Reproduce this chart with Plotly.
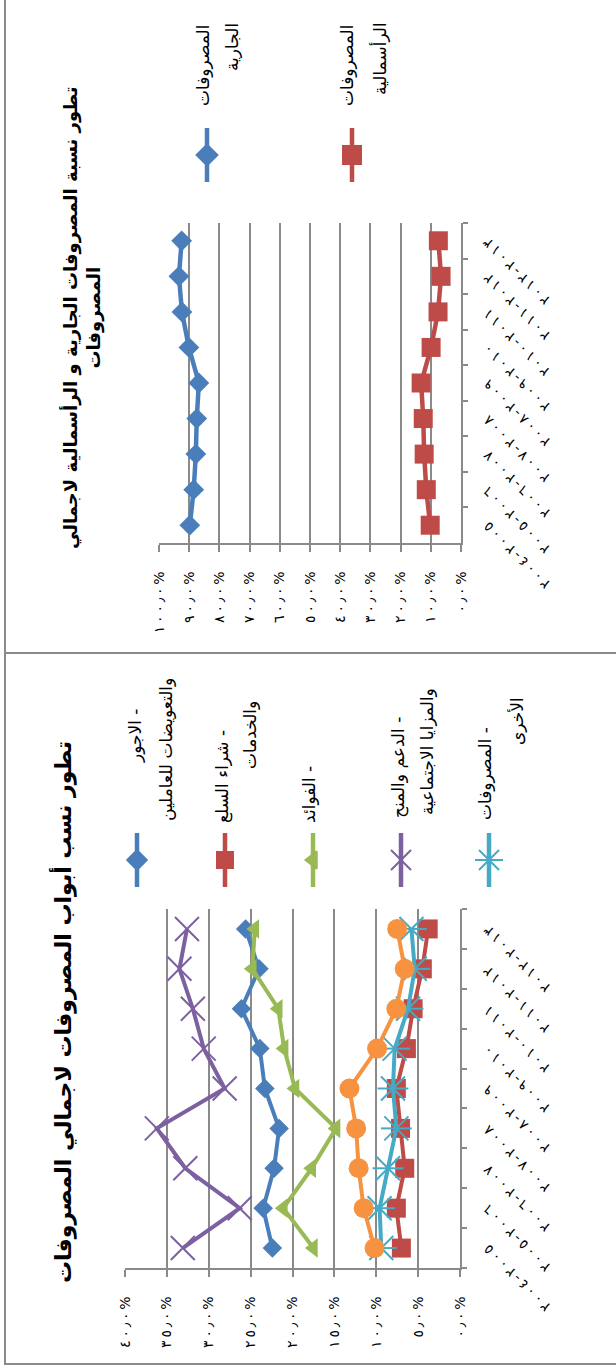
import plotly.graph_objects as go

W, H = 616, 1370

# Fiscal years (first year at the bottom of each panel)
years = ["٢٠٠٤-٢٠٠٥", "٢٠٠٥-٢٠٠٦", "٢٠٠٦-٢٠٠٧", "٢٠٠٧-٢٠٠٨", "٢٠٠٨-٢٠٠٩",
         "٢٠٠٩-٢٠١٠", "٢٠١٠-٢٠١١", "٢٠١١-٢٠١٢", "٢٠١٢-٢٠١٣"]

# Panel 1: current vs capital expenditure share of total (%)
current_share = [89.8, 88.5, 87.8, 87.5, 86.8, 90.1, 92.4, 93.4, 92.5]
capital_share = [10.2, 11.5, 12.2, 12.5, 13.2, 9.9, 7.6, 6.6, 7.5]

# Panel 2: expenditure chapters share of total (%)
wages = [22.4, 23.5, 22.2, 21.6, 23.3, 23.9, 26.1, 24.0, 25.6]
goods_services = [7.0, 7.6, 6.6, 7.1, 7.6, 6.4, 5.6, 4.5, 3.8]
interest = [17.5, 21.1, 17.7, 14.8, 19.7, 21.0, 21.7, 24.8, 24.5]
subsidies = [33.1, 26.3, 32.8, 36.2, 28.1, 30.6, 31.9, 33.5, 32.6]
other_exp = [9.4, 9.6, 8.6, 7.6, 8.0, 7.8, 6.2, 5.4, 5.8]
investments = [10.2, 11.5, 12.1, 12.4, 13.2, 9.9, 7.6, 6.6, 7.5]

top_tick_vals = [0, 10, 20, 30, 40, 50, 60, 70, 80, 90, 100]
top_tick_text = ["٠٫٠%", "١٠٫٠%", "٢٠٫٠%", "٣٠٫٠%", "٤٠٫٠%", "٥٠٫٠%",
                 "٦٠٫٠%", "٧٠٫٠%", "٨٠٫٠%", "٩٠٫٠%", "١٠٠٫٠%"]
bot_tick_vals = [0, 5, 10, 15, 20, 25, 30, 35, 40]
bot_tick_text = ["٠٫٠%", "٥٫٠%", "١٠٫٠%", "١٥٫٠%", "٢٠٫٠%", "٢٥٫٠%",
                 "٣٠٫٠%", "٣٥٫٠%", "٤٠٫٠%"]

title_top = "تطور نسبة المصروفات الجارية و الرأسمالية لاجمالي<br>المصروفات"
title_bot = "تطور نسب أبواب المصروفات لاجمالي المصروفات"

BLUE, RED, GREEN = "#4A7EBB", "#BE4B48", "#98B954"
PURPLE, TEAL, ORANGE = "#7D60A0", "#46AAC5", "#F69240"
GRID = "#8A8A8A"
FONT = "DejaVu Sans"
THIN = "\u2009"


def spaced(s):
    """Left-to-right override with thin spaces between the glyphs."""
    return "\u202d" + THIN.join(s) + "\u202c"


def px_x(x):
    return x / W


def px_y(y):
    return 1 - y / H


fig = go.Figure()

# ---- panel 1 traces
fig.add_trace(go.Scatter(
    x=current_share, y=years, xaxis="x", yaxis="y", mode="lines+markers",
    name="المصروفات الجارية", line=dict(color=BLUE, width=4.5),
    marker=dict(symbol="diamond", size=16, color=BLUE)))
fig.add_trace(go.Scatter(
    x=capital_share, y=years, xaxis="x", yaxis="y", mode="lines+markers",
    name="المصروفات الرأسمالية", line=dict(color=RED, width=4.5),
    marker=dict(symbol="square", size=19, color=RED)))

# ---- panel 2 traces
fig.add_trace(go.Scatter(
    x=wages, y=years, xaxis="x2", yaxis="y2", mode="lines+markers",
    line=dict(color=BLUE, width=4), marker=dict(symbol="diamond", size=15, color=BLUE)))
fig.add_trace(go.Scatter(
    x=goods_services, y=years, xaxis="x2", yaxis="y2", mode="lines+markers",
    line=dict(color=RED, width=4), marker=dict(symbol="square", size=19, color=RED)))
fig.add_trace(go.Scatter(
    x=interest, y=years, xaxis="x2", yaxis="y2", mode="lines+markers",
    line=dict(color=GREEN, width=4), marker=dict(symbol="triangle-left", size=17, color=GREEN)))
fig.add_trace(go.Scatter(
    x=subsidies, y=years, xaxis="x2", yaxis="y2", mode="lines+markers",
    line=dict(color=PURPLE, width=4),
    marker=dict(symbol="x-thin-open", size=24, color=PURPLE, line=dict(width=2, color=PURPLE))))
fig.add_trace(go.Scatter(
    x=other_exp, y=years, xaxis="x2", yaxis="y2", mode="lines+markers",
    line=dict(color=TEAL, width=4),
    marker=dict(symbol="x-thin-open", size=24, color=TEAL, line=dict(width=2, color=TEAL))))
fig.add_trace(go.Scatter(
    x=other_exp, y=years, xaxis="x2", yaxis="y2", mode="markers",
    marker=dict(symbol="line-ew-open", size=22, color=TEAL, line=dict(width=2, color=TEAL)),
    hoverinfo="skip"))
fig.add_trace(go.Scatter(
    x=investments, y=years, xaxis="x2", yaxis="y2", mode="lines+markers",
    line=dict(color=ORANGE, width=4), marker=dict(symbol="circle", size=20, color=ORANGE)))

# ---- hand-made rotated legends on a full-page overlay axis
legend_items = [
    # (x column, marker y, colour, symbols, size)
    (207, 155, BLUE, ["diamond"], 16),
    (352, 155, RED, ["square"], 18),
    (137, 860, BLUE, ["diamond"], 15),
    (225, 860, RED, ["square"], 16),
    (313, 860, GREEN, ["triangle-left"], 15),
    (401, 860, PURPLE, ["x-thin-open"], 20),
    (489, 860, TEAL, ["x-thin-open", "line-ew-open"], 20),
]
for lx, ly, col, syms, sz in legend_items:
    fig.add_trace(go.Scatter(
        x=[lx, lx], y=[ly - 27, ly + 27], xaxis="x3", yaxis="y3",
        mode="lines", line=dict(color=col, width=4.5), hoverinfo="skip"))
    for sym in syms:
        fig.add_trace(go.Scatter(
            x=[lx], y=[ly], xaxis="x3", yaxis="y3", mode="markers",
            marker=dict(symbol=sym, size=sz, color=col, opacity=1,
                        line=dict(width=2, color=col)),
            hoverinfo="skip"))

annotations = []


def vtext(text, x, y, size=17, bold=False):
    t = "<b>" + text + "</b>" if bold else text
    annotations.append(dict(
        text=t, x=px_x(x), y=px_y(y), xref="paper", yref="paper",
        xanchor="center", yanchor="middle", textangle=-90, showarrow=False,
        font=dict(family=FONT, size=size, color="black"), align="center"))


# titles
vtext(title_top, 82, 318, size=18, bold=True)
vtext(title_bot, 62, 1012, size=22, bold=True)

# legend labels, panel 1
vtext("المصروفات", 203, 66)
vtext("الجارية", 232, 47)
vtext("المصروفات", 347, 66)
vtext("الرأسمالية", 380, 59)

# legend labels, panel 2
vtext("الاجور -", 135, 736)
vtext("والتعويضات للعاملين", 166, 750)
vtext("شراء السلع -", 222, 777)
vtext("والخدمات", 250, 735)
vtext("الفوائد -", 309, 795)
vtext("الدعم والمنح -", 398, 768)
vtext("والمزايا الاجتماعية", 427, 752)
vtext("المصروفات -", 485, 774)
vtext("الأخرى", 517, 721)

# slanted fiscal-year labels beside the category axes
for yax in ("y", "y2"):
    for yr in years:
        annotations.append(dict(
            text=spaced(yr), x=px_x(477), y=yr, xref="paper", yref=yax,
            xanchor="left", yanchor="top", yshift=9, textangle=-135, showarrow=False,
            font=dict(family=FONT, size=14, color="black")))

axis_common = dict(
    showline=True, linecolor=GRID, linewidth=1.5, ticks="outside", ticklen=7,
    tickcolor=GRID, tickwidth=1.5, showgrid=True, gridcolor=GRID, gridwidth=1.5,
    zeroline=False, tickangle=-90, tickfont=dict(family=FONT, size=14, color="black"),
    ticklabelstandoff=14, fixedrange=True)
cat_common = dict(
    type="category", showline=True, linecolor=GRID, linewidth=1.5, ticks="outside",
    ticklen=5, tickcolor=GRID, tickwidth=1.5, tickson="boundaries", showgrid=False,
    showticklabels=False, side="right", range=[-0.5, 8.5], fixedrange=True)

fig.update_layout(
    width=W, height=H, margin=dict(l=0, r=0, t=0, b=0), template="none",
    paper_bgcolor="white", plot_bgcolor="rgba(0,0,0,0)", showlegend=False,
    font=dict(family=FONT, color="black"),
    xaxis=dict(domain=[px_x(159), px_x(461)], anchor="y", range=[100, 0],
               tickvals=top_tick_vals, ticktext=[spaced(t) for t in top_tick_text],
               **axis_common),
    yaxis=dict(domain=[px_y(543), px_y(223)], anchor="x", **cat_common),
    xaxis2=dict(domain=[px_x(125), px_x(460)], anchor="y2", range=[40, 0],
                tickvals=bot_tick_vals, ticktext=[spaced(t) for t in bot_tick_text],
                **axis_common),
    yaxis2=dict(domain=[px_y(1268), px_y(909)], anchor="x2", **cat_common),
    xaxis3=dict(domain=[0, 1], anchor="y3", range=[0, W], visible=False, fixedrange=True),
    yaxis3=dict(domain=[0, 1], anchor="x3", range=[H, 0], visible=False, fixedrange=True),
    annotations=annotations,
    shapes=[
        dict(type="rect", xref="paper", yref="paper", x0=px_x(5), x1=px_x(625),
             y0=px_y(653), y1=px_y(-10), line=dict(color=GRID, width=2)),
        dict(type="rect", xref="paper", yref="paper", x0=px_x(5), x1=px_x(625),
             y0=px_y(1364), y1=px_y(653), line=dict(color=GRID, width=2)),
    ],
)

fig.write_html("out.html")
